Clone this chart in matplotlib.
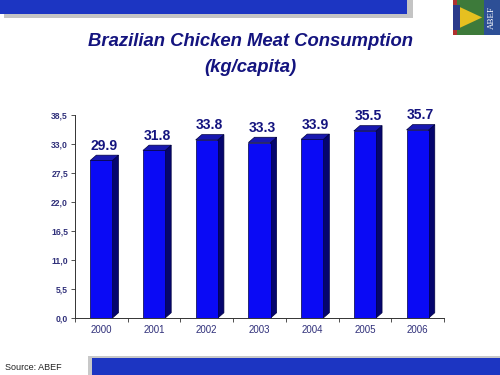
import matplotlib.pyplot as plt
from matplotlib.patches import Polygon, Rectangle, Wedge

years = ['2000', '2001', '2002', '2003', '2004', '2005', '2006']
consumption = [29.9, 31.8, 33.8, 33.3, 33.9, 35.5, 35.7]
value_labels = ['29.9', '31.8', '33.8', '33.3', '33.9', '35.5', '35.7']
yticks = [0, 5.5, 11.0, 16.5, 22.0, 27.5, 33.0, 38.5]
ytick_labels = ['0,0', '5,5', '11,0', '16,5', '22,0', '27,5', '33,0', '38,5']

navy = '#14147f'
front = '#0a0af5'
side = '#05056e'
top = '#1818b0'

plt.rcParams['font.family'] = ['Liberation Sans', 'DejaVu Sans']

fig = plt.figure(figsize=(5, 3.75), dpi=100)
ax = fig.add_axes([0.15, 0.152, 0.738, 0.541])

# bars with fake 3d depth
width = 0.42
dx = 0.115
dy = 1.0
xs = list(range(len(years)))
ax.bar(xs, consumption, width=width, color=front, edgecolor='#000040', linewidth=0.5, zorder=3)
for x, v in zip(xs, consumption):
    l, r = x - width / 2, x + width / 2
    ax.add_patch(Polygon([(r, 0), (r + dx, dy), (r + dx, v + dy), (r, v)],
                         closed=True, facecolor=side, edgecolor='#000040', linewidth=0.5, zorder=2))
    ax.add_patch(Polygon([(l, v), (r, v), (r + dx, v + dy), (l + dx, v + dy)],
                         closed=True, facecolor=top, edgecolor='#000040', linewidth=0.5, zorder=2))

for x, v, lab in zip(xs, consumption, value_labels):
    ax.text(x + dx / 2, v + 2.8, lab, ha='center', va='center', fontsize=10,
            fontweight='bold', color=navy)

ax.set_xlim(-0.5, 6.5)
ax.set_ylim(0, 38.5)
ax.set_yticks(yticks)
ax.set_yticklabels(ytick_labels, fontsize=6.2, fontweight='bold', color='#30307a')
ax.set_xticks(xs)
ax.set_xticklabels(years, fontsize=7, color='#30307a')
ax.set_xticks([i - 0.5 for i in range(len(years) + 1)], minor=True)
ax.tick_params(axis='x', which='major', length=0, pad=5)
ax.tick_params(axis='x', which='minor', length=3, width=0.6, color='#333333')
ax.tick_params(axis='y', length=3, width=0.6, color='#333333', pad=2)
for s in ['top', 'right']:
    ax.spines[s].set_visible(False)
for s in ['left', 'bottom']:
    ax.spines[s].set_linewidth(0.7)
    ax.spines[s].set_color('#333333')

# title
fig.text(0.5, 0.889, 'Brazilian Chicken Meat Consumption', ha='center', va='center',
         fontsize=13.3, fontweight='bold', style='italic', color=navy)
fig.text(0.5, 0.82, '(kg/capita)', ha='center', va='center',
         fontsize=13.3, fontweight='bold', style='italic', color=navy)

# top banner with shadow
fig.add_artist(Rectangle((0.008, 0.952), 0.818, 0.048, transform=fig.transFigure,
                         facecolor='#c4c4c4', edgecolor='none', zorder=0))
fig.add_artist(Rectangle((0.0, 0.962), 0.814, 0.038, transform=fig.transFigure,
                         facecolor='#1c35c2', edgecolor='none', zorder=1))

# bottom banner with shadow
fig.add_artist(Rectangle((0.176, 0.0), 0.824, 0.052, transform=fig.transFigure,
                         facecolor='#c8c8c8', edgecolor='none', zorder=0))
fig.add_artist(Rectangle((0.184, 0.0), 0.816, 0.045, transform=fig.transFigure,
                         facecolor='#1c35c2', edgecolor='none', zorder=1))

fig.text(0.01, 0.021, 'Source: ABEF', ha='left', va='center', fontsize=6.5, color='#222222')

# logo
lx, ly, lw, lh = 0.906, 0.907, 0.094, 0.093
fig.add_artist(Rectangle((lx, ly), lw * 0.66, lh, transform=fig.transFigure,
                         facecolor='#3d7a3a', edgecolor='none'))
fig.add_artist(Rectangle((lx + lw * 0.66, ly), lw * 0.34, lh, transform=fig.transFigure,
                         facecolor='#2d4f96', edgecolor='none'))
fig.add_artist(Polygon([(lx + 0.01, ly + lh * 0.5 + 0.03), (lx + lw * 0.62, ly + lh * 0.5),
                        (lx + 0.01, ly + lh * 0.5 - 0.03)], closed=True, transform=fig.transFigure,
                       facecolor='#e6c020', edgecolor='none'))
fig.add_artist(Rectangle((lx, ly + 0.012), 0.014, lh - 0.024, transform=fig.transFigure,
                         facecolor='#2a3a8a', edgecolor='none'))
fig.add_artist(Rectangle((lx, ly), 0.008, 0.012, transform=fig.transFigure,
                         facecolor='#b03030', edgecolor='none'))
fig.add_artist(Rectangle((lx, ly + lh - 0.012), 0.008, 0.012, transform=fig.transFigure,
                         facecolor='#b03030', edgecolor='none'))
fig.text(lx + lw * 0.83, ly + lh / 2, 'ABEF', rotation=90, ha='center', va='center',
         fontsize=6.5, color='white', family='Liberation Serif')

fig.savefig('out.png', dpi=100)
